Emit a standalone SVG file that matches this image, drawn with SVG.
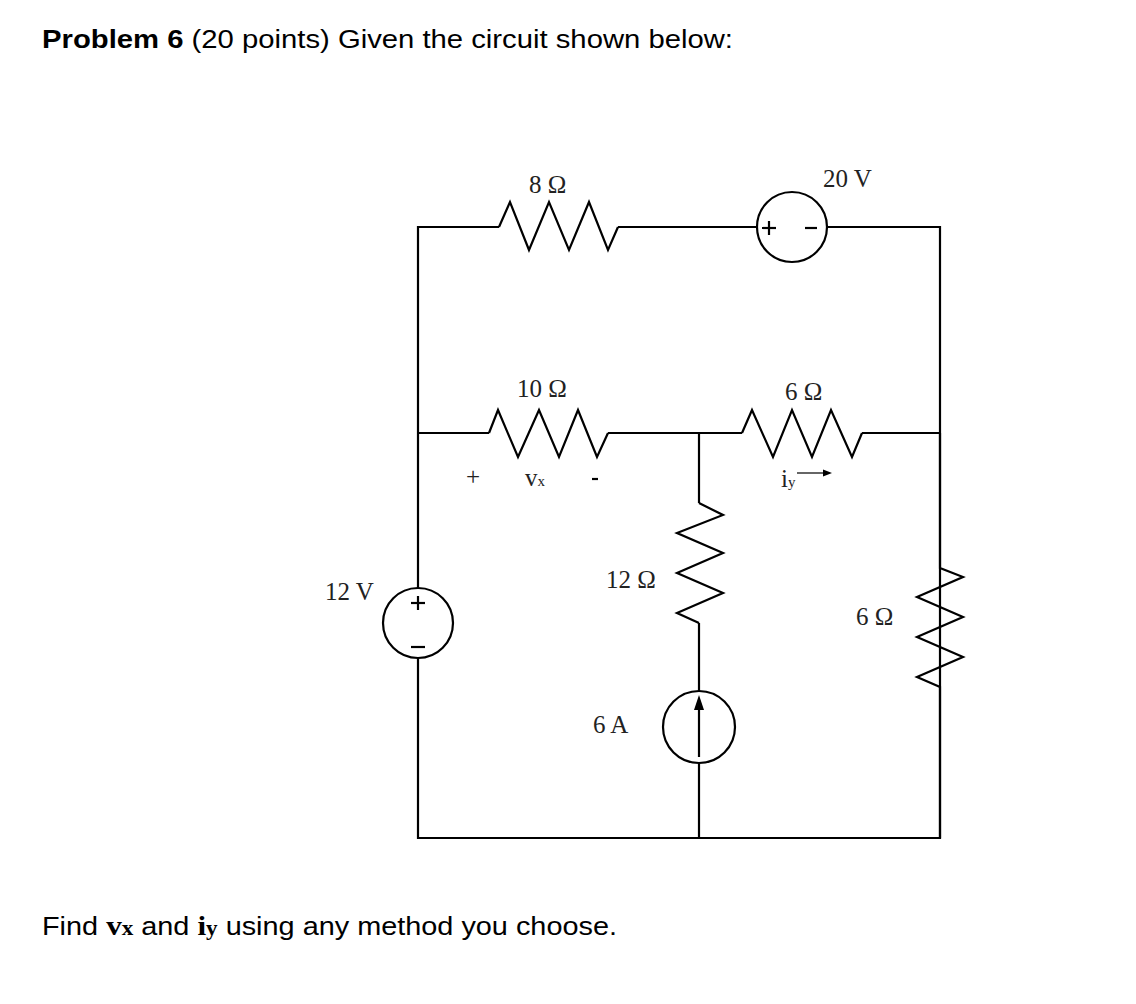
<svg xmlns="http://www.w3.org/2000/svg" width="1136" height="1004" viewBox="0 0 1136 1004">
<style>
.w{fill:none;stroke:#000;stroke-width:2.2;stroke-linejoin:miter}
.c{fill:#fff;stroke:#000;stroke-width:2.2}
.l{font-family:"Liberation Serif",serif;font-size:25px;fill:#222}
.t{font-family:"Liberation Sans",sans-serif;font-size:25px;fill:#000}
</style>
<rect width="1136" height="1004" fill="#fff"/>
<text class="t" x="42" y="48" textLength="691" lengthAdjust="spacingAndGlyphs"><tspan font-weight="bold">Problem 6</tspan> (20 points) Given the circuit shown below:</text>
<text class="t" x="42" y="935" textLength="575" lengthAdjust="spacingAndGlyphs">Find <tspan font-family="Liberation Serif,serif" font-weight="bold" font-size="27">v<tspan font-size="20">x</tspan></tspan> and <tspan font-family="Liberation Serif,serif" font-weight="bold" font-size="27">i<tspan font-size="20">y</tspan></tspan> using any method you choose.</text>
<g id="connectors">
<polyline class="w" points="499,227 418,227 418,838 940,838 940,227 828,227"/>
<line class="w" x1="618" y1="227" x2="757" y2="227"/>
<polyline class="w" points="418,433 489,433"/>
<polyline class="w" points="608,433 742,433"/>
<polyline class="w" points="862,433 940,433"/>
<polyline class="w" points="699,433 699,503"/>
<polyline class="w" points="699,623 699,838"/>
</g>
<g id="R8"><polyline class="w" points="499,227 510,202 529,250 549,202 569,250 589,202 608,250 618,227"/><text class="l" x="529" y="193">8 Ω</text></g>
<g id="V20"><circle class="c" cx="792" cy="227" r="35"/><line class="w" x1="762" y1="228" x2="776" y2="228"/><line class="w" x1="769" y1="221" x2="769" y2="235"/><line class="w" x1="805" y1="228" x2="817" y2="228"/><text class="l" x="823" y="187">20 V</text></g>
<g id="R10"><polyline class="w" points="489,433 498,410 518,457 539,410 559,457 578,410 597,457 608,433"/><text class="l" x="517" y="397">10 Ω</text>
<text class="l" x="466" y="485" font-size="22">+</text><text class="l" x="525" y="486" font-size="22">v<tspan font-size="15">x</tspan></text><line class="w" x1="592" y1="479" x2="598" y2="479" stroke-width="2"/></g>
<g id="R6a"><polyline class="w" points="742,433 752,410 773,457 792,410 812,457 831,410 852,457 862,433"/><text class="l" x="785" y="400">6 Ω</text>
<text class="l" x="781" y="487" font-size="22">i<tspan font-size="15">y</tspan></text><line x1="797" y1="473" x2="824" y2="473" stroke="#000" stroke-width="1.2"/><polygon points="832,473 823,469.5 823,476.5" fill="#000"/></g>
<g id="R12"><polyline class="w" points="699,503 723,515 677,533 723,553 677,573 723,593 677,613 699,623"/><text class="l" x="606" y="588">12 Ω</text></g>
<g id="I6"><circle class="c" cx="699" cy="727" r="36"/><line x1="699" y1="757" x2="699" y2="708" stroke="#000" stroke-width="2.2"/><polygon points="699,695 694,710 704,710" fill="#000"/><text class="l" x="593" y="733">6 A</text></g>
<g id="V12"><circle class="c" cx="418" cy="623" r="35"/><line class="w" x1="411" y1="603" x2="425" y2="603"/><line class="w" x1="418" y1="596" x2="418" y2="610"/><line class="w" x1="411" y1="647" x2="425" y2="647"/><text class="l" x="325" y="600">12 V</text></g>
<g id="R6b"><polyline class="w" points="940,433 940,568 963,577 917,597 963,617 917,637 963,657 917,677 940,687 940,838"/><text class="l" x="856" y="625">6 Ω</text></g>
</svg>
